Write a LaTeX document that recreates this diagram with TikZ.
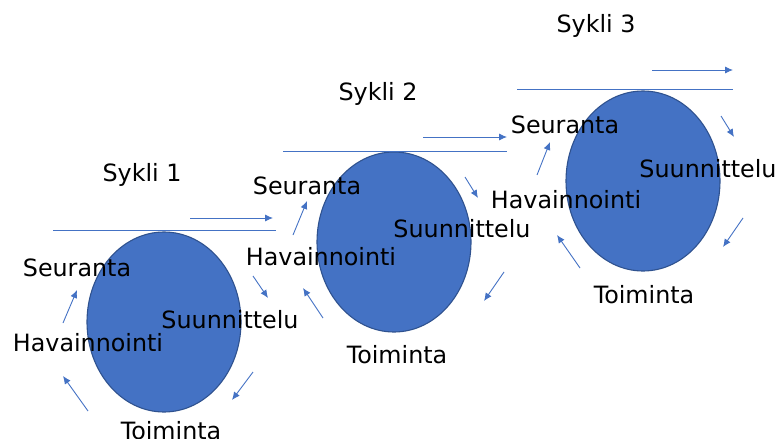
\documentclass[tikz,border=0pt]{standalone}
\usepackage{fontspec}
\setmainfont{DejaVu Sans}
\usetikzlibrary{arrows.meta,shapes.geometric}
\definecolor{ofblue}{HTML}{4472C4}
\definecolor{ofdark}{HTML}{2F528F}
\begin{document}
\begin{tikzpicture}[x=1pt,y=-1pt,
  lbl/.style={font=\fontsize{23.8}{28}\selectfont, inner sep=0pt, text=black, text height=17pt, text depth=0pt},
  cyc/.style={ellipse, draw=ofdark, line width=1.1pt, fill=ofblue, minimum width=154pt, minimum height=180pt, inner sep=0pt},
  conn/.style={draw=ofblue, line width=0.9pt, -{Latex[length=8pt,width=7pt]}},
  rule/.style={draw=ofblue, line width=0.9pt}]
\useasboundingbox (0,0) rectangle (779,439);
% ellipses
\node[cyc] (e1) at (164,322) {};
\node[cyc] (e2) at (394,242) {};
\node[cyc] (e3) at (643,181) {};
% horizontal lines
\coordinate (l1a) at (53,230); \coordinate (l1b) at (276,230);
\coordinate (l2a) at (283,151); \coordinate (l2b) at (507,151);
\coordinate (l3a) at (517,89); \coordinate (l3b) at (733,89);
\draw[rule] (l1a) -- (l1b);
\draw[rule] (l2a) -- (l2b);
\draw[rule] (l3a) -- (l3b);
% labels
\node[lbl] (s1) at (142,173) {Sykli 1};
\node[lbl] (s2) at (378,92) {Sykli 2};
\node[lbl] (s3) at (596,24) {Sykli 3};
\node[lbl] (se1) at (77,268) {Seuranta};
\node[lbl] (ha1) at (88,343) {Havainnointi};
\node[lbl] (su1) at (230,320) {Suunnittelu};
\node[lbl] (to1) at (171,431) {Toiminta};
\node[lbl] (se2) at (307,186) {Seuranta};
\node[lbl] (ha2) at (321,257) {Havainnointi};
\node[lbl] (su2) at (462,229) {Suunnittelu};
\node[lbl] (to2) at (397,355) {Toiminta};
\node[lbl] (se3) at (565,125) {Seuranta};
\node[lbl] (ha3) at (566,200) {Havainnointi};
\node[lbl] (su3) at (708,169) {Suunnittelu};
\node[lbl] (to3) at (644,295) {Toiminta};
% arrow end points
\coordinate (a1s) at (190,218); \coordinate (a1e) at (273,218);
\coordinate (a2s) at (423,137); \coordinate (a2e) at (507,137);
\coordinate (a3s) at (652,70); \coordinate (a3e) at (733,70);
\coordinate (b1s) at (63,323); \coordinate (b1e) at (77,290);
\coordinate (b2s) at (88,411); \coordinate (b2e) at (63,376);
\coordinate (b3s) at (253,372); \coordinate (b3e) at (232,400);
\coordinate (b4s) at (253,276); \coordinate (b4e) at (268,298);
\coordinate (b5s) at (293,235); \coordinate (b5e) at (307,201);
\coordinate (b6s) at (323,318); \coordinate (b6e) at (303,288);
\coordinate (b7s) at (465,177); \coordinate (b7e) at (478,198);
\coordinate (b8s) at (504,272); \coordinate (b8e) at (484,301);
\coordinate (b9s) at (537,175); \coordinate (b9e) at (550,142);
\coordinate (b10s) at (580,268); \coordinate (b10e) at (557,235);
\coordinate (b11s) at (721,116); \coordinate (b11e) at (734,137);
\coordinate (b12s) at (743,218); \coordinate (b12e) at (723,247);
\foreach \a in {a1,a2,a3,b1,b2,b3,b4,b5,b6,b7,b8,b9,b10,b11,b12}
  \draw[conn] (\a s) -- (\a e);
\end{tikzpicture}
\end{document}
